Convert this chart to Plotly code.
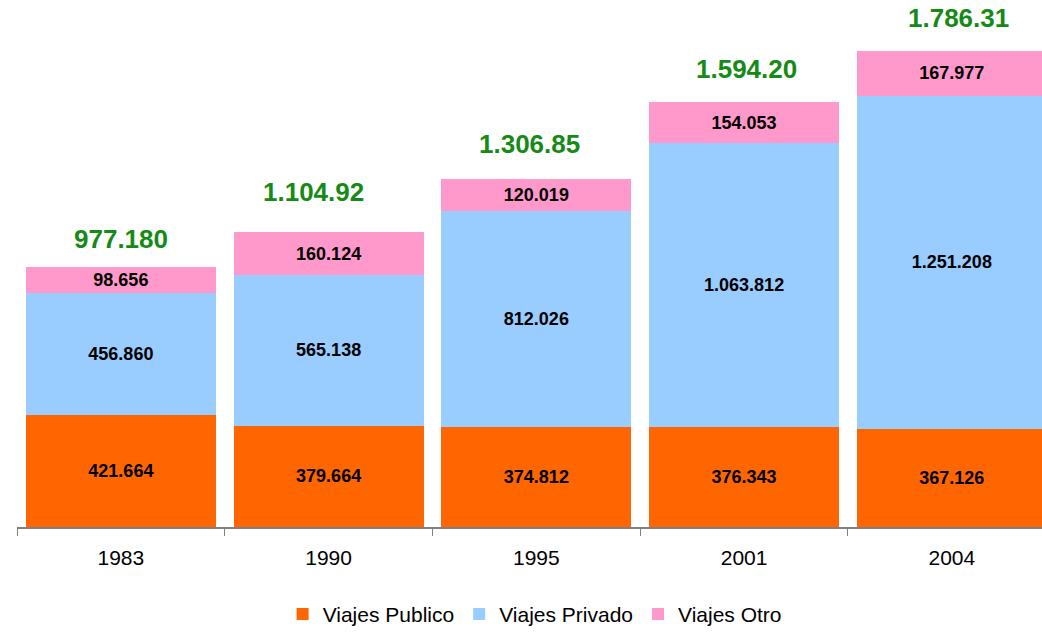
import plotly.graph_objects as go

years = ["1983", "1990", "1995", "2001", "2004"]
publico = [421.664, 379.664, 374.812, 376.343, 367.126]
privado = [456.860, 565.138, 812.026, 1063.812, 1251.208]
otro = [98.656, 160.124, 120.019, 154.053, 167.977]
publico_lbl = ["421.664", "379.664", "374.812", "376.343", "367.126"]
privado_lbl = ["456.860", "565.138", "812.026", "1.063.812", "1.251.208"]
otro_lbl = ["98.656", "160.124", "120.019", "154.053", "167.977"]
total_lbl = ["977.180", "1.104.92", "1.306.85", "1.594.20", "1.786.31"]

FONT = "Liberation Sans, Arial, Helvetica, sans-serif"

fig = go.Figure()
for name, vals, lbls, col in [
    ("Viajes Publico", publico, publico_lbl, "#FF6600"),
    ("Viajes Privado", privado, privado_lbl, "#99CCFF"),
    ("Viajes Otro", otro, otro_lbl, "#FF99CC"),
]:
    fig.add_trace(go.Bar(
        x=years, y=vals, name=name, text=lbls, texttemplate="%{text}",
        textposition="inside", insidetextanchor="middle", textangle=0,
        marker=dict(color=col, line=dict(width=0)),
        textfont=dict(family=FONT, size=18, color="black", weight="bold"),
        hoverinfo="skip",
    ))

# label placement offsets (pixels) as in the original layout
total_xshift = [0, -15, -7, 2, 7]
total_yshift = [12, 24, 19, 17, 17]

totals = [a + b + c for a, b, c in zip(publico, privado, otro)]
for i, (t, lbl) in enumerate(zip(totals, total_lbl)):
    fig.add_annotation(x=i, y=t, xref="x", yref="y", text="<b>" + lbl + "</b>",
                       showarrow=False, yanchor="bottom", yshift=total_yshift[i],
                       xshift=total_xshift[i], borderpad=0,
                       font=dict(family=FONT, size=26, color="#168A16"))

fig.update_layout(
    barmode="stack", bargap=0.085,
    width=1042, height=632,
    margin=dict(l=17, r=0, t=20, b=105),
    paper_bgcolor="white", plot_bgcolor="white",
    font=dict(family=FONT, size=21, color="black"),
    showlegend=True,
    legend=dict(orientation="h", x=0.505, xanchor="center", yref="container", y=0.028,
                yanchor="middle", font=dict(size=21), traceorder="normal",
                itemsizing="constant", itemwidth=30),
    uniformtext=dict(mode=False),
)
fig.update_xaxes(type="category", range=[-0.5, 4.434], showline=True, linecolor="#808080",
                 linewidth=1.5, ticks="outside", tickson="boundaries", ticklen=7,
                 tickcolor="#808080", showgrid=False, tickfont=dict(size=21),
                 ticklabelstandoff=11)
fig.update_yaxes(visible=False, range=[0, 1902])

fig.write_html("out.html", config={"displayModeBar": False},
               post_script="document.body.style.margin='0px';document.body.style.overflow='hidden';")
